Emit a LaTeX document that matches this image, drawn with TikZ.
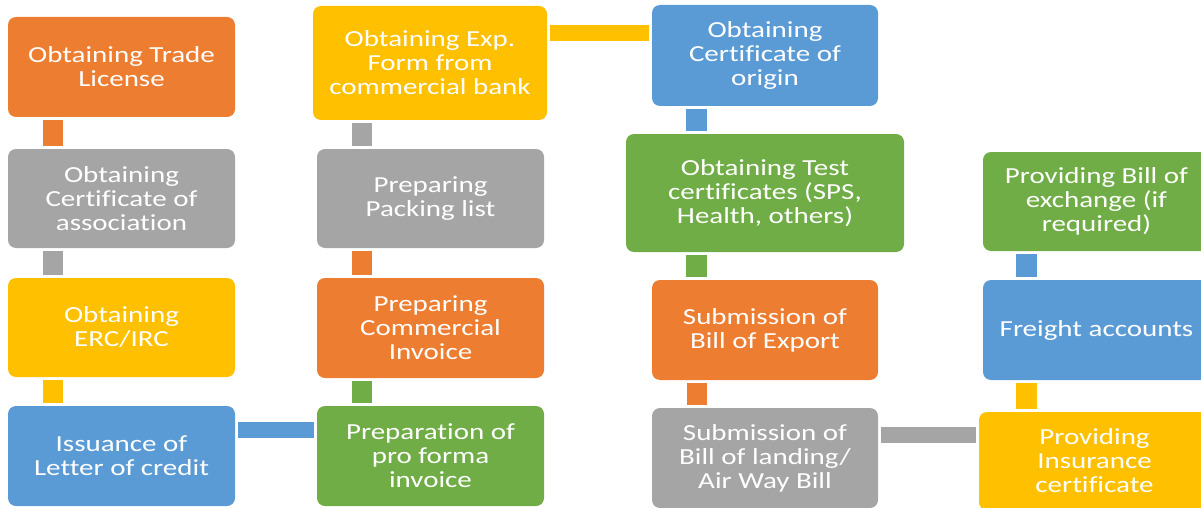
\documentclass[tikz,border=0pt]{standalone}
\usepackage{fontspec}
\setmainfont[FakeStretch=1.26, Ligatures=NoCommon]{Carlito}
\usepackage{xcolor}
\usetikzlibrary{calc}

\definecolor{orangeC}{HTML}{ED7D31}
\definecolor{greyC}{HTML}{A5A5A5}
\definecolor{yellowC}{HTML}{FFC000}
\definecolor{blueC}{HTML}{5B9BD5}
\definecolor{greenC}{HTML}{70AD47}

\tikzset{
	tile/.style={rounded corners=8pt, minimum width=227pt, minimum height=100pt,
		inner sep=0pt, text=white, align=center, font=\fontsize{23}{24}\selectfont},
	vlink/.style={line width=20.5pt, shorten <=2.5pt, shorten >=2.5pt},
	hlink/.style={line width=16pt, shorten <=2.5pt, shorten >=2.5pt}
}

\begin{document}
\begin{tikzpicture}[x=1pt, y=-1pt]
			\def\W{1201};
			\def\H{508};
			\def\dx{45pt};

			\clip (0,0) rectangle (\W,\H);

			\begin{scope}
				\node [tile, fill=orangeC] (trade) at (121.5,67) {Obtaining Trade\\License};
				\node [tile, fill=greyC, minimum height=99pt] (assoc) at (121.5,198.5) {Obtaining\\Certificate of\\association};
				\node [tile, fill=yellowC, minimum height=99pt] (erc) at (121.5,327.5) {Obtaining\\ERC/IRC};
				\node [tile, fill=blueC] (lc) at (121.5,456) {Issuance of\\Letter of credit};
			\end{scope}

			\begin{scope}
				\node [tile, fill=yellowC, minimum width=234pt, minimum height=114pt] (expform) at (430,63) {Obtaining Exp.\\Form from\\commercial bank};
				\node [tile, fill=greyC, minimum height=99pt] (packing) at (430.5,198.5) {Preparing\\Packing list};
				\node [tile, fill=orangeC] (commercial) at (430.5,328) {Preparing\\Commercial\\Invoice};
				\node [tile, fill=greenC] (proforma) at (430.5,456) {Preparation of\\pro forma\\invoice};
			\end{scope}

			\begin{scope}
				\node [tile, fill=blueC, minimum width=226pt, minimum height=101pt] (origin) at (765,55.5) {Obtaining\\Certificate of\\origin};
				\node [tile, fill=greenC, minimum width=278pt, minimum height=118pt] (test) at (765,193) {Obtaining Test\\certificates (SPS,\\Health, others)};
				\node [tile, fill=orangeC, minimum width=226pt] (billexport) at (765,330) {Submission of\\Bill of Export};
				\node [tile, fill=greyC, minimum width=226pt] (lading) at (765,458) {Submission of\\Bill of landing/\\Air Way Bill};
			\end{scope}

			\begin{scope}
				\node [tile, fill=greenC, minimum height=99pt] (exchange) at (1096.5,201.5) {Providing Bill of\\exchange (if\\required)};
				\node [tile, fill=blueC] (freight) at (1096.5,330) {Freight accounts};
				\node [tile, fill=yellowC, minimum width=231pt, minimum height=98pt] (insurance) at (1094.5,461) {Providing\\Insurance\\certificate};
			\end{scope}

			\begin{scope}[vlink]
				\draw [orangeC] ([xshift=\dx]trade.south west) -- ([xshift=\dx]assoc.north west);
				\draw [greyC] ([xshift=\dx]assoc.south west) -- ([xshift=\dx]erc.north west);
				\draw [yellowC] ([xshift=\dx]erc.south west) -- ([xshift=\dx]lc.north west);

				\draw [greenC] ([xshift=\dx]proforma.north west) -- ([xshift=\dx]commercial.south west);
				\draw [orangeC] ([xshift=\dx]commercial.north west) -- ([xshift=\dx]packing.south west);
				\draw [greyC] ([xshift=\dx]packing.north west) -- ([xshift=\dx]packing.north west |- expform.south);

				\draw [blueC] ([xshift=44.5pt]origin.south west) -- ([xshift=44.5pt]origin.south west |- test.north);
				\draw [greenC] ([xshift=44.5pt]billexport.north west |- test.south) -- ([xshift=44.5pt]billexport.north west);
				\draw [orangeC] ([xshift=\dx]billexport.south west) -- ([xshift=\dx]lading.north west);

				\draw [yellowC] ([xshift=43.5pt]freight.south west |- insurance.north) -- ([xshift=43.5pt]freight.south west);
				\draw [blueC] ([xshift=43.5pt]freight.north west) -- ([xshift=43.5pt]exchange.south west);
			\end{scope}

			\begin{scope}[hlink]
				\draw [blueC] ([yshift=-24pt]lc.north east) -- ([yshift=-24pt]lc.north east -| proforma.west);
				\draw [yellowC] ([yshift=-28pt]origin.north west -| expform.east) -- ([yshift=-28pt]origin.north west);
				\draw [greyC] ([yshift=-27pt]lading.north east) -- ([yshift=-27pt]lading.north east -| insurance.west);
			\end{scope}
		\end{tikzpicture}
\end{document}
